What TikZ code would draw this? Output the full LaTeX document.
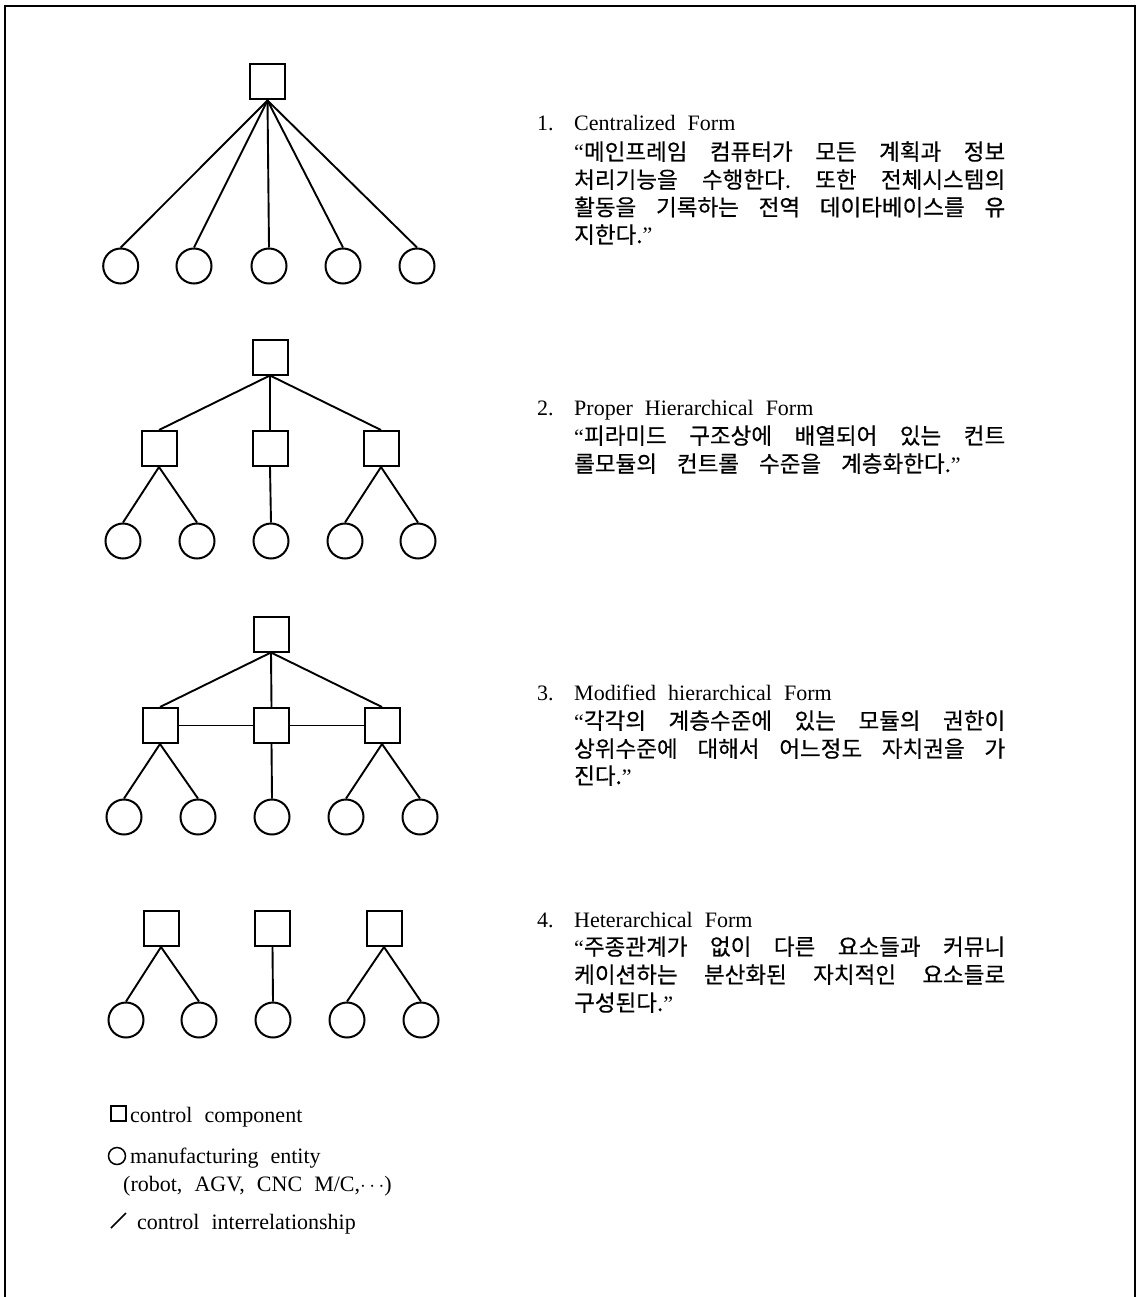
\documentclass[tikz,border=0pt]{standalone}
\usepackage{fontspec}
\setmainfont{Liberation Serif}[WordSpace=2.2]
\newfontfamily\kr{Noto Sans CJK KR}[WordSpace=1.6,FakeBold=0.5]
\frenchspacing
\begin{document}
\begin{tikzpicture}[x=1pt,y=-1pt,
  ctrl/.style={draw,line width=2pt,minimum size=35pt,inner sep=0pt},
  ent/.style={draw,circle,line width=2pt,minimum size=35pt,inner sep=0pt},
  link/.style={line width=1.9pt},
  title/.style={anchor=base west,inner sep=0pt,font=\fontsize{22}{26}\selectfont},
  krline/.style={anchor=base west,inner sep=0pt,font=\kr\fontsize{22.5}{27}\selectfont},
  legend/.style={anchor=base west,inner sep=0pt,font=\fontsize{22}{26}\selectfont}]
\useasboundingbox (0,0) rectangle (1140,1297);
% open frame round the figure
\draw[line width=2.6pt] (5,1297) -- (5,6) -- (1135,6) -- (1135,1297);

\newcommand{\fullline}[1]{\makebox[431pt][s]{#1}}
\newcommand{\oq}{{\rmfamily\fontsize{22}{26}\selectfont “}}
\newcommand{\cq}{{\rmfamily\fontsize{22}{26}\selectfont ”}}

% ---------- 1. centralized ----------
\node[ctrl] (c0) at (267.5,82) {};
\foreach \i/\x in {1/120.7,2/194,3/269,4/343,5/417}{
  \node[ent] (c\i) at (\x,266) {};
  \draw[link] (c0.south) -- (c\i.north);
}

% ---------- 2. proper hierarchical ----------
\node[ctrl] (p0) at (270,357) {};
\node[ctrl] (pa) at (159,448.5) {};
\node[ctrl] (pb) at (270,448.5) {};
\node[ctrl] (pc) at (381,448.5) {};
\foreach \i/\x in {1/123,2/197,3/271,4/345,5/418}{
  \node[ent] (p\i) at (\x,541) {};
}
\foreach \m in {pa,pb,pc} \draw[link] (p0.south) -- (\m.north);
\draw[link] (pa.south) -- (p1.north);
\draw[link] (pa.south) -- (p2.north);
\draw[link] (pb.south) -- (p3.north);
\draw[link] (pc.south) -- (p4.north);
\draw[link] (pc.south) -- (p5.north);

% ---------- 3. modified hierarchical ----------
\node[ctrl] (m0) at (271,634) {};
\node[ctrl] (ma) at (160,725.5) {};
\node[ctrl] (mb) at (271.5,725.5) {};
\node[ctrl] (mc) at (382,725.5) {};
\foreach \i/\x in {1/124,2/198,3/272,4/346,5/420}{
  \node[ent] (m\i) at (\x,817) {};
}
\foreach \m in {ma,mb,mc} \draw[link] (m0.south) -- (\m.north);
\draw[link] (ma) -- (mb);
\draw[link] (mb) -- (mc);
\draw[link] (ma.south) -- (m1.north);
\draw[link] (ma.south) -- (m2.north);
\draw[link] (mb.south) -- (m3.north);
\draw[link] (mc.south) -- (m4.north);
\draw[link] (mc.south) -- (m5.north);

% ---------- 4. heterarchical ----------
\node[ctrl] (ha) at (161,928.5) {};
\node[ctrl] (hb) at (272.5,928.5) {};
\node[ctrl] (hc) at (384,928.5) {};
\foreach \i/\x in {1/126,2/199,3/273,4/347,5/421}{
  \node[ent] (h\i) at (\x,1020) {};
}
\draw[link] (ha.south) -- (h1.north);
\draw[link] (ha.south) -- (h2.north);
\draw[link] (hb.south) -- (h3.north);
\draw[link] (hc.south) -- (h4.north);
\draw[link] (hc.south) -- (h5.north);

% ---------- descriptions ----------
\node[title] (n1) at (537,131) {1.};
\node[title] (t1) at (574,131) {Centralized Form};
\node[krline] (k11) at (574,160) {\fullline{\oq 메인프레임 컴퓨터가 모든 계획과 정보}};
\node[krline] (k12) at (574,188) {\fullline{처리기능을 수행한다. 또한 전체시스템의}};
\node[krline] (k13) at (574,215.5) {\fullline{활동을 기록하는 전역 데이타베이스를 유}};
\node[krline] (k14) at (574,243) {지한다.\cq};

\node[title] (n2) at (537,415) {2.};
\node[title] (t2) at (574,415) {Proper Hierarchical Form};
\node[krline] (k21) at (574,444) {\fullline{\oq 피라미드 구조상에 배열되어 있는 컨트}};
\node[krline] (k22) at (574,472) {롤모듈의\hspace{20pt}컨트롤\hspace{20pt}수준을\hspace{20pt}계층화한다.\cq};

\node[title] (n3) at (537,700) {3.};
\node[title] (t3) at (574,700) {Modified hierarchical Form};
\node[krline] (k31) at (574,729) {\fullline{\oq 각각의 계층수준에 있는 모듈의 권한이}};
\node[krline] (k32) at (574,757) {\fullline{상위수준에 대해서 어느정도 자치권을 가}};
\node[krline] (k33) at (574,784) {진다.\cq};

\node[title] (n4) at (537,927) {4.};
\node[title] (t4) at (574,927) {Heterarchical Form};
\node[krline] (k41) at (574,955) {\fullline{\oq 주종관계가 없이 다른 요소들과 커뮤니}};
\node[krline] (k42) at (574,983) {\fullline{케이션하는 분산화된 자치적인 요소들로}};
\node[krline] (k43) at (574,1011) {구성된다.\cq};

% ---------- legend ----------
\node[draw,line width=1.5pt,minimum size=15pt,inner sep=0pt] (lsq) at (118.5,1113.5) {};
\node[legend] (l1) at (130,1122) {control component};
\node[draw,circle,line width=1.5pt,minimum size=17pt,inner sep=0pt] (lci) at (117,1156) {};
\node[legend] (l2) at (130,1163) {manufacturing entity};
\node[legend] (l3) at (123,1191) {(robot, AGV, CNC M/C,$\cdots$)};
\coordinate (s1) at (111,1228);
\coordinate (s2) at (126,1213);
\draw[line width=1.5pt] (s1) -- (s2);
\node[legend] (l4) at (137,1229) {control interrelationship};
\end{tikzpicture}
\end{document}
